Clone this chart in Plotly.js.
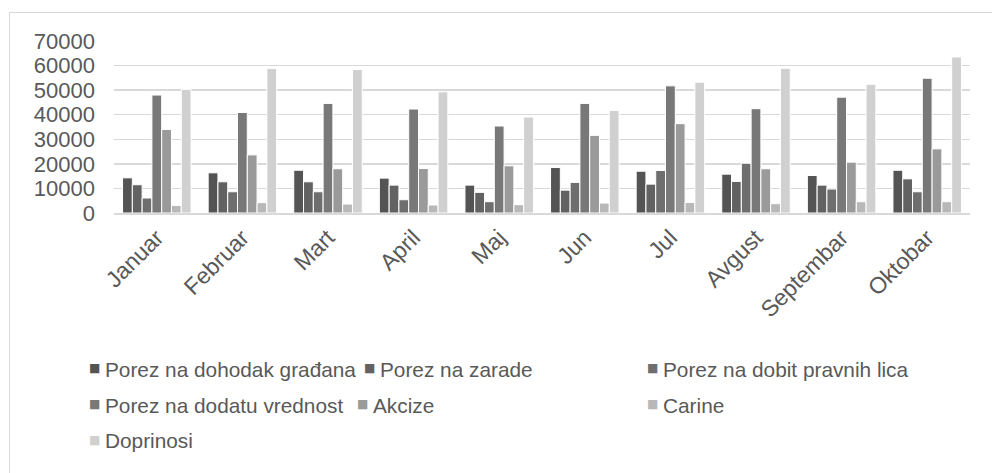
<!DOCTYPE html>
<html>
<head>
<meta charset="utf-8">
<script src="https://cdn.plot.ly/plotly-3.0.1.min.js"></script>
<style>
html,body{margin:0;padding:0;background:#fff;}
#frame{position:absolute;left:9px;top:12px;width:1000px;height:480px;border-left:1px solid #d9d9d9;border-top:1px solid #d9d9d9;}
#chart{position:absolute;left:0;top:0;width:992px;height:473px;}
</style>
</head>
<body>
<div id="frame"></div>
<div id="chart"></div>
<script>
const months = ["Januar","Februar","Mart","April","Maj","Jun","Jul","Avgust","Septembar","Oktobar"];
const seriesNames = ["Porez na dohodak građana","Porez na zarade","Porez na dobit pravnih lica","Porez na dodatu vrednost","Akcize","Carine","Doprinosi"];
const dohodak = [14300,16350,17400,14200,11350,18500,17000,15800,15250,17400];
const zarade = [11500,12700,12700,11350,8400,9300,11750,12850,11350,13900];
const dobit = [6100,8650,8650,5400,4600,12450,17300,20250,9750,8650];
const pdv = [48000,40900,44600,42300,35400,44600,51750,42450,47150,54850];
const akcize = [34000,23650,18000,18100,19200,31600,36350,18000,20700,26100];
const carine = [3100,4200,3650,3250,3400,4050,4300,3800,4600,4600];
const doprinosi = [50300,58800,58400,49300,39050,41750,53250,58900,52400,63500];
const yTicks = [0,10000,20000,30000,40000,50000,60000,70000];

const values = [dohodak, zarade, dobit, pdv, akcize, carine, doprinosi];
const colors = ["#545454","#626262","#6e6e6e","#787878","#9a9a9a","#b8b8b8","#d0d0d0"];

const M = {l:114, r:22, t:41, b:260};
const W = 992, H = 473;
const PW = W - M.l - M.r, PH = H - M.t - M.b;
const px2x = p => (p - M.l) / PW;
const py2y = p => (H - M.b - p) / PH;

// legend entry text starts (px) and row centres (px)
const legTextX = [103, 378, 661, 103, 371, 661, 103];
const legRowY = [369, 369, 369, 405, 405, 405, 441];

const traces = values.map((v,i)=>({
  type:"bar", x:months, y:v, name:seriesNames[i],
  marker:{color:colors[i], line:{color:"#ffffff", width:1}},
  showlegend:false
}));

const annotations = [];
seriesNames.forEach((n,i)=>{
  annotations.push({xref:"paper", yref:"paper", x:px2x(legTextX[i]-1), y:py2y(legRowY[i]-1),
    xanchor:"right", yanchor:"middle", showarrow:false, text:"■",
    font:{family:"DejaVu Sans, Liberation Sans, sans-serif", size:12, color:colors[i]}});
  annotations.push({xref:"paper", yref:"paper", x:px2x(legTextX[i]), y:py2y(legRowY[i]),
    xanchor:"left", yanchor:"middle", showarrow:false, text:n,
    font:{family:"Liberation Sans, Arial, sans-serif", size:20.8, color:"#595959"}});
});

const layout = {
  width:W, height:H,
  margin:M,
  paper_bgcolor:"rgba(0,0,0,0)", plot_bgcolor:"rgba(0,0,0,0)",
  barmode:"group", bargap:0.2, bargroupgap:0,
  font:{family:"Liberation Sans, Arial, sans-serif", color:"#595959"},
  showlegend:false,
  xaxis:{type:"category", tickangle:-45, tickfont:{size:23, color:"#595959"}, showgrid:false, automargin:false,
         showline:true, linecolor:"#d9d9d9", linewidth:2, ticks:"", zeroline:false},
  yaxis:{range:[0,70000], tickvals:yTicks, ticktext:yTicks.map(String), tickfont:{size:22, color:"#595959"}, automargin:false,
         showgrid:true, gridcolor:"#d9d9d9", gridwidth:1.5, zeroline:false, showline:false, ticks:"", ticklabelstandoff:18},
  annotations:annotations
};
Plotly.newPlot("chart", traces, layout, {displayModeBar:false, staticPlot:true});
</script>
</body>
</html>
